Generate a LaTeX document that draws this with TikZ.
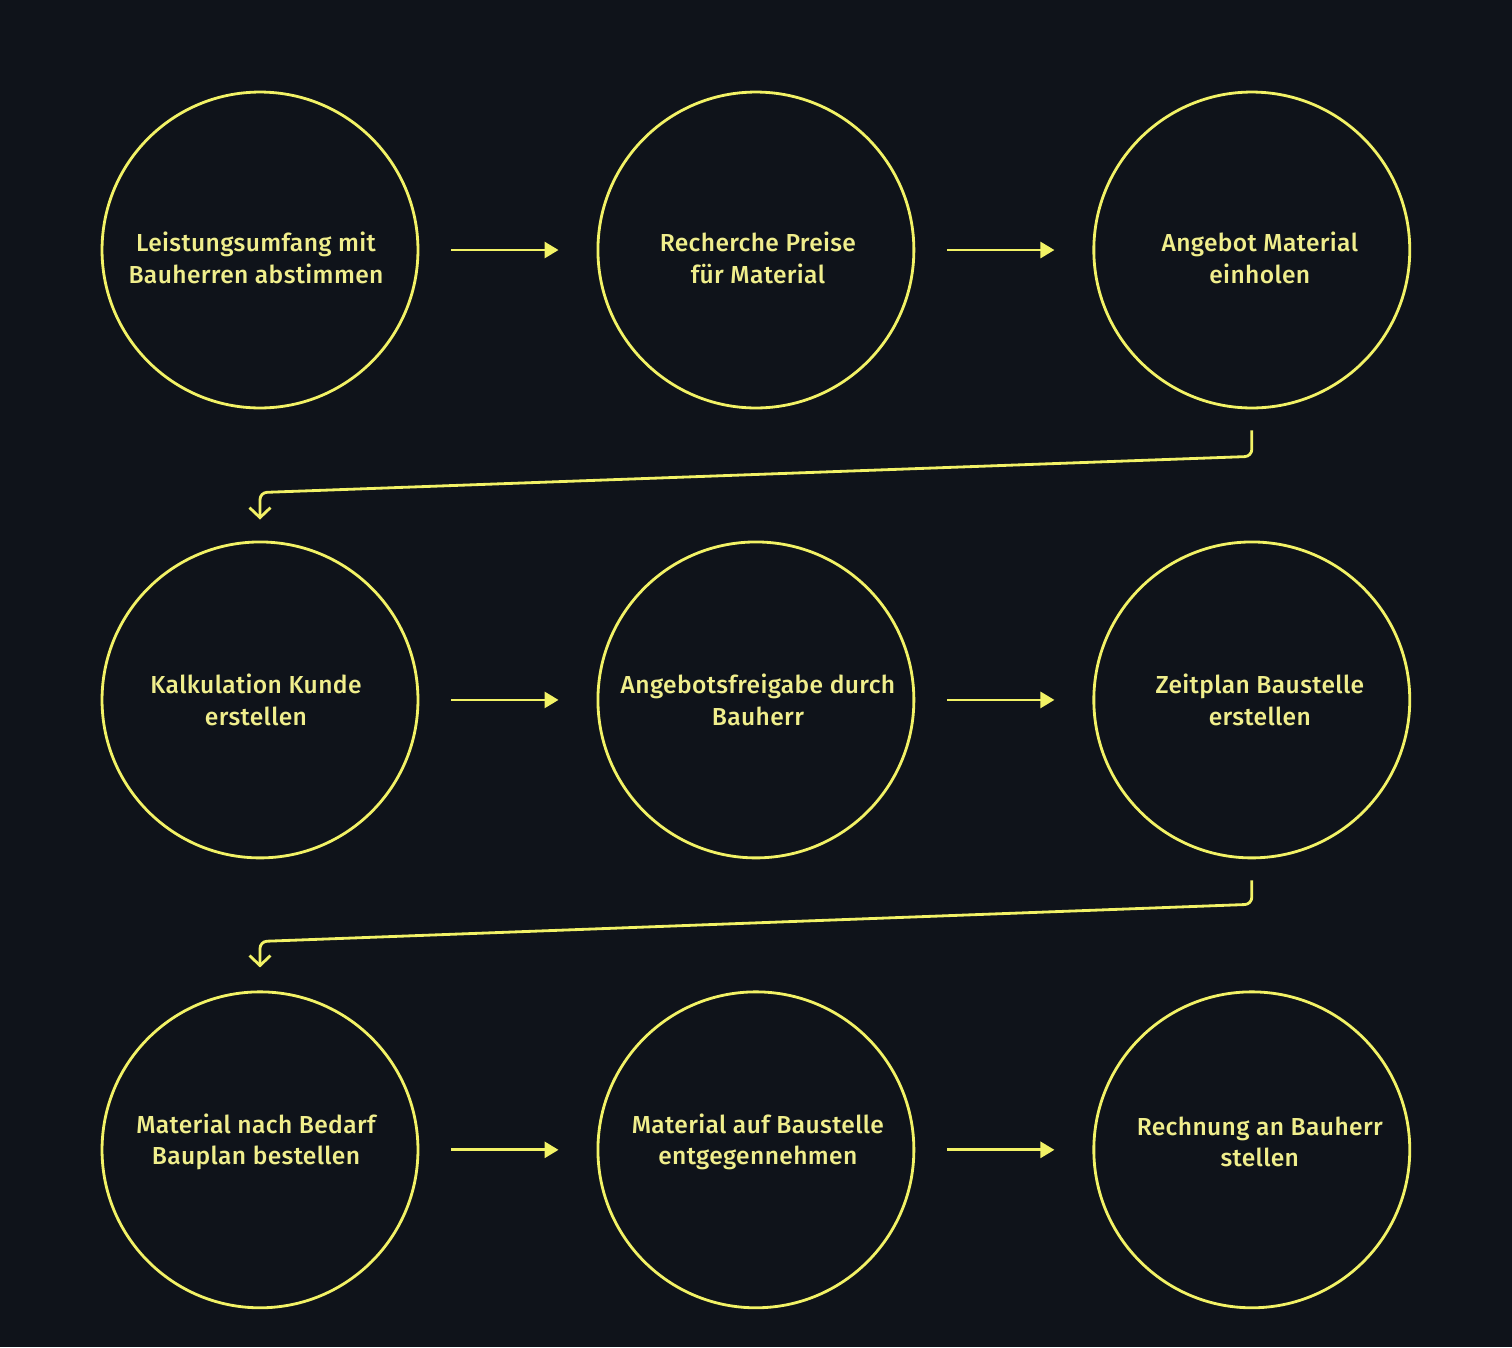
\documentclass[tikz,border=0pt]{standalone}
\usepackage{fontspec}
\setmainfont{Fira Sans}[LetterSpace=1.5, BoldFont={* Medium}]
\usetikzlibrary{positioning,calc,arrows.meta}
\definecolor{bgdark}{HTML}{0F131A}
\definecolor{lineyel}{HTML}{F2F266}
\definecolor{textyel}{HTML}{F0EE8C}

\begin{document}
\begin{tikzpicture}[x=0.02cm, y=-0.02cm,
    node distance=9cm and 9.92cm, on grid,
    stepcirc/.style={circle, draw=lineyel, line width=1.6pt, minimum size=6.32cm, inner sep=0pt},
    steptext/.style 2 args={text=textyel, align=center, inner sep=0pt,
      font=\fontsize{14}{18}\selectfont\bfseries, shift={(#1,#2)}},
    flow/.style={draw=lineyel, line width=1.6pt, -{Triangle[length=0.28cm, width=0.32cm]}},
    wrap/.style={draw=lineyel, line width=1.6pt, rounded corners=4pt,
      -{Straight Barb[length=0.2cm, width=0.42cm, line width=1.6pt]}}]
  \fill[bgdark] (0,0) rectangle (1512,1347);
  \useasboundingbox (0,0) rectangle (1512,1347);
  \node[stepcirc] (s1) at (260,250) {};
  \node[stepcirc, right=of s1] (s2) {};
  \node[stepcirc, right=of s2] (s3) {};
  \node[stepcirc, below=of s1] (s4) {};
  \node[stepcirc, right=of s4] (s5) {};
  \node[stepcirc, right=of s5] (s6) {};
  \node[stepcirc, below=of s4] (s7) {};
  \node[stepcirc, right=of s7] (s8) {};
  \node[stepcirc, right=of s8] (s9) {};
  \node[steptext={-4}{8}] (t1) at (s1) {Leistungsumfang mit\\Bauherren abstimmen};
  \node[steptext={2}{8}] (t2) at (s2) {Recherche Preise\\für Material};
  \node[steptext={8}{8}] (t3) at (s3) {Angebot Material\\einholen};
  \node[steptext={-4}{0}] (t4) at (s4) {Kalkulation Kunde\\erstellen};
  \node[steptext={2}{0}] (t5) at (s5) {Angebotsfreigabe durch\\Bauherr};
  \node[steptext={8}{0}] (t6) at (s6) {Zeitplan Baustelle\\erstellen};
  \node[steptext={-4}{-8}] (t7) at (s7) {Material nach Bedarf\\Bauplan bestellen};
  \node[steptext={2}{-8}] (t8) at (s8) {Material auf Baustelle\\entgegennehmen};
  \node[steptext={8}{-8}] (t9) at (s9) {Rechnung an Bauherr\\stellen};
  \draw[flow] ([xshift=0.64cm]s1.east) -- ([xshift=-0.76cm]s2.west);
  \draw[flow] ([xshift=0.64cm]s2.east) -- ([xshift=-0.76cm]s3.west);
  \draw[flow] ([xshift=0.64cm]s4.east) -- ([xshift=-0.76cm]s5.west);
  \draw[flow] ([xshift=0.64cm]s5.east) -- ([xshift=-0.76cm]s6.west);
  \draw[flow] ([xshift=0.64cm]s7.east) -- ([xshift=-0.76cm]s8.west);
  \draw[flow] ([xshift=0.64cm]s8.east) -- ([xshift=-0.76cm]s9.west);
  \draw[wrap] ([yshift=-0.42cm]s3.south) -- ++(0,-0.52cm)
    -- ($(s4.north)+(0,0.96cm)$) -- ([yshift=0.42cm]s4.north);
  \draw[wrap] ([yshift=-0.42cm]s6.south) -- ++(0,-0.48cm)
    -- ($(s7.north)+(0,0.98cm)$) -- ([yshift=0.46cm]s7.north);
\end{tikzpicture}
\end{document}
